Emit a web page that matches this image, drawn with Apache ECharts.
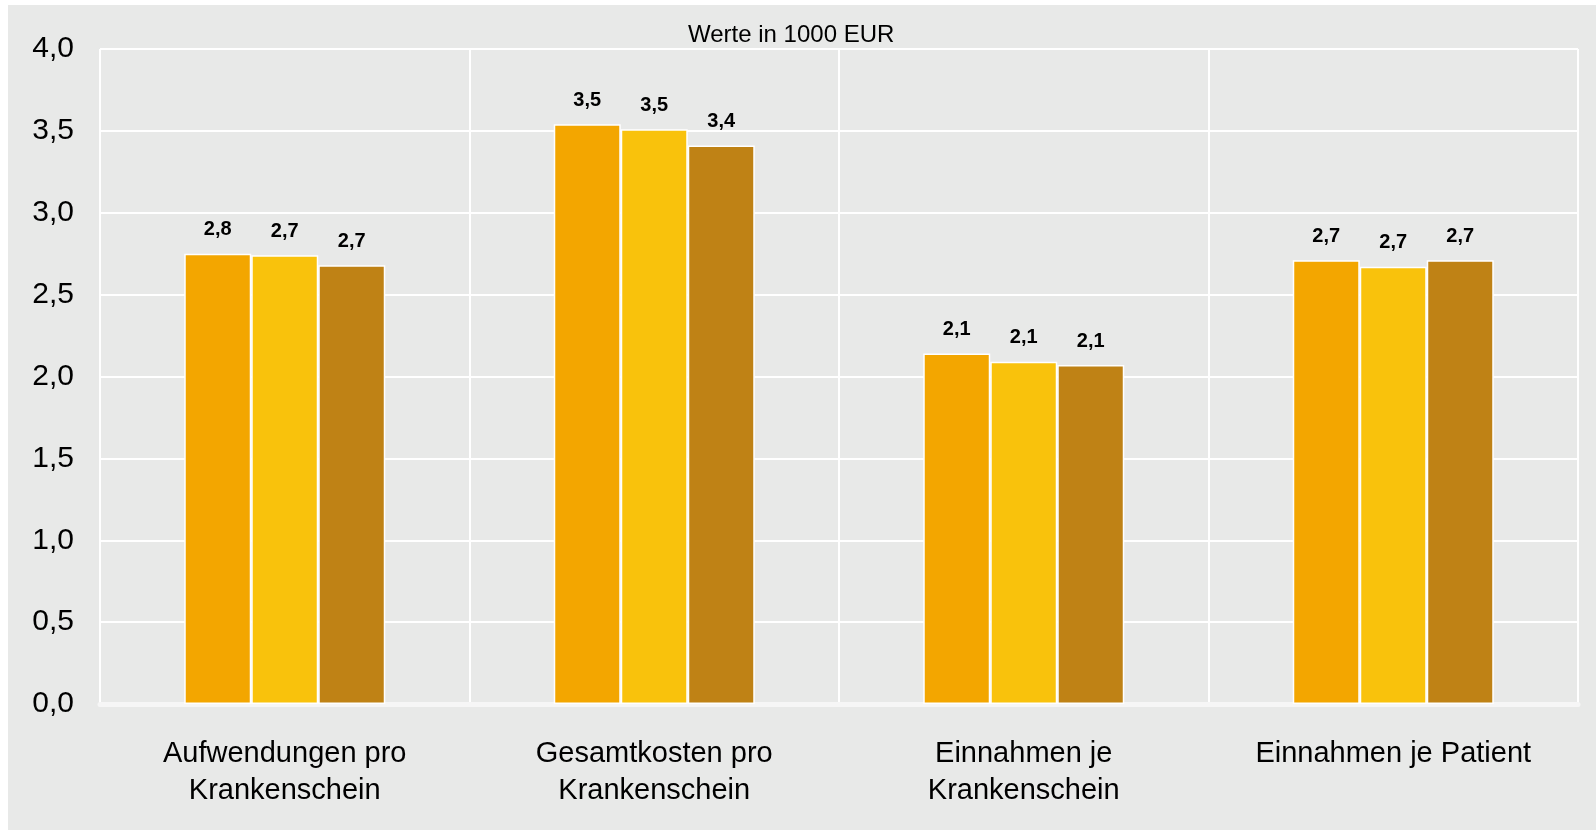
<!DOCTYPE html>
<html>
<head>
<meta charset="utf-8">
<script src="https://cdn.jsdelivr.net/npm/echarts@6/dist/echarts.min.js"></script>
<style>
  html, body { margin: 0; padding: 0; background: #fff; }
  #chart {
    position: absolute;
    left: 8px;
    top: 5px;
    width: 1588px;
    height: 825px;
    background: #e8e9e8;
  }
</style>
</head>
<body>
<div id="chart"></div>
<script>
// Kategorien (x-Achse)
const categories = [
  'Aufwendungen pro\nKrankenschein',
  'Gesamtkosten pro\nKrankenschein',
  'Einnahmen je\nKrankenschein',
  'Einnahmen je Patient'
];

// Werte in 1000 EUR, drei Reihen
const reihe1 = [2.75, 3.54, 2.14, 2.71];
const reihe2 = [2.74, 3.51, 2.09, 2.67];
const reihe3 = [2.68, 3.41, 2.07, 2.71];

const farben = ['#f3a600', '#f9c20c', '#bf8215'];

const fontFamily = '"Liberation Sans", Arial, sans-serif';

const komma = (v) => Number(v).toFixed(1).replace('.', ',');

const makeSeries = (name, values, color) => ({
  name: name,
  type: 'bar',
  data: values,
  barWidth: 67,
  barGap: '0%',
  itemStyle: {
    color: color,
    borderColor: '#ffffff',
    borderWidth: 1.5
  },
  label: {
    show: true,
    position: 'top',
    distance: 14,
    color: '#000',
    fontFamily: fontFamily,
    fontWeight: 'bold',
    fontSize: 20,
    formatter: (p) => komma(p.value)
  }
});

const chart = echarts.init(document.getElementById('chart'));

chart.setOption({
  backgroundColor: '#e8e9e8',
  animation: false,
  title: {
    text: 'Werte in 1000 EUR',
    left: 680,
    top: 18,
    padding: 0,
    textStyle: {
      fontFamily: fontFamily,
      fontWeight: 'normal',
      fontSize: 24,
      color: '#000'
    }
  },
  grid: {
    left: 92,
    right: 18,
    top: 44,
    bottom: 126,
    containLabel: false
  },
  xAxis: {
    type: 'category',
    data: categories,
    axisTick: { show: false },
    axisLine: {
      show: true,
      lineStyle: { color: '#f6f6f6', width: 5, cap: 'round' }
    },
    splitLine: {
      show: true,
      lineStyle: { color: '#ffffff', width: 2 }
    },
    axisLabel: {
      margin: 31,
      fontFamily: fontFamily,
      fontSize: 29,
      lineHeight: 37,
      color: '#000'
    }
  },
  yAxis: {
    type: 'value',
    min: 0,
    max: 4,
    interval: 0.5,
    axisLine: { show: false },
    axisTick: { show: false },
    splitLine: {
      show: true,
      lineStyle: { color: '#ffffff', width: 2 }
    },
    axisLabel: {
      margin: 26,
      fontFamily: fontFamily,
      fontSize: 30,
      color: '#000',
      formatter: komma
    }
  },
  series: [
    makeSeries('Reihe 1', reihe1, farben[0]),
    makeSeries('Reihe 2', reihe2, farben[1]),
    makeSeries('Reihe 3', reihe3, farben[2])
  ]
});
</script>
</body>
</html>
